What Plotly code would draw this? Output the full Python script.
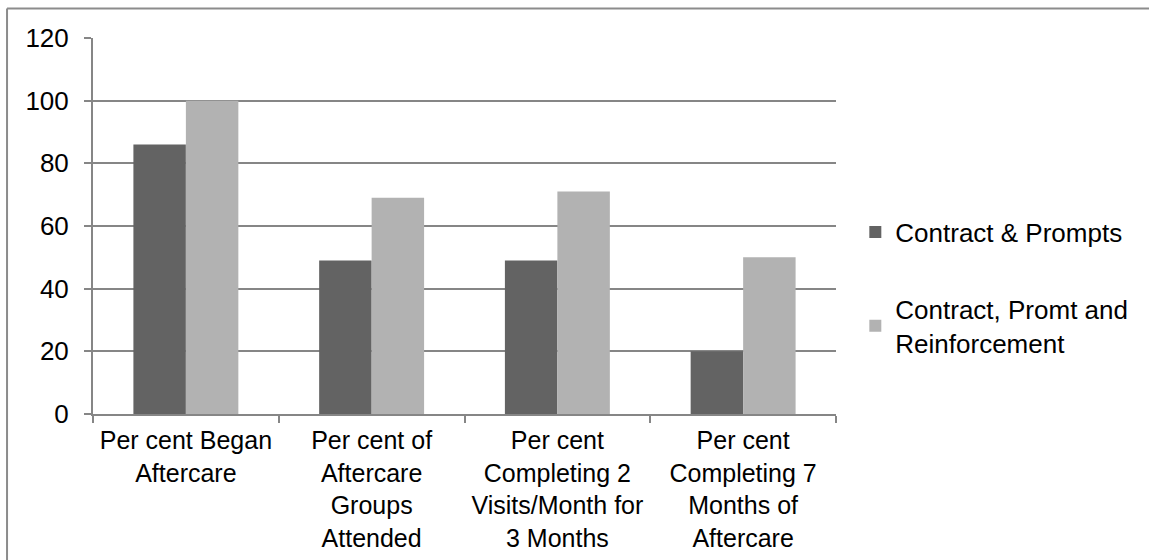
import plotly.graph_objects as go

categories = [
    "Per cent Began<br>Aftercare",
    "Per cent of<br>Aftercare<br>Groups<br>Attended",
    "Per cent<br>Completing 2<br>Visits/Month for<br>3 Months",
    "Per cent<br>Completing 7<br>Months of<br>Aftercare",
]
contract_prompts = [86, 49, 49, 20]
contract_prompt_reinf = [100, 69, 71, 50]
y_ticks = [0, 20, 40, 60, 80, 100, 120]

FONT = "Liberation Sans, Arial, sans-serif"
FSIZE = 26
GRID = "#868686"

fig = go.Figure()
fig.add_trace(go.Bar(
    x=categories, y=contract_prompts, name="Contract & Prompts",
    marker=dict(color="#636363", line=dict(width=0)), legendgroup="a",
))
fig.add_trace(go.Bar(
    x=categories, y=contract_prompt_reinf, name="Contract, Promt and<br>Reinforcement",
    marker=dict(color="#b2b2b2", line=dict(width=0)), legendgroup="b",
))

fig.update_layout(
    width=1149, height=560,
    margin=dict(l=93, r=313, t=38, b=146),
    paper_bgcolor="white", plot_bgcolor="white",
    font=dict(family=FONT, size=FSIZE, color="#000000"),
    barmode="group", bargap=0.435, bargroupgap=0,
    showlegend=True,
    legend=dict(
        x=1.026, xanchor="left", y=0.336, yanchor="middle",
        traceorder="grouped", tracegroupgap=40,
        font=dict(family=FONT, size=FSIZE, color="#000000"),
        itemwidth=30,
    ),
    xaxis=dict(
        showgrid=False, showline=True, linecolor=GRID, linewidth=2,
        ticks="outside", ticklen=7, tickwidth=2, tickcolor=GRID,
        tickson="boundaries", ticklabelstandoff=3, tickangle=0,
        automargin=False,
        tickfont=dict(family=FONT, size=25, color="#000000"),
    ),
    yaxis=dict(
        range=[0, 120], tickvals=y_ticks,
        showgrid=True, gridcolor=GRID, gridwidth=2,
        showline=True, linecolor=GRID, linewidth=2,
        ticks="outside", ticklen=7, tickwidth=2, tickcolor=GRID,
        ticklabelstandoff=10, zeroline=False, automargin=False,
        tickfont=dict(family=FONT, size=FSIZE, color="#000000"),
    ),
    shapes=[
        dict(type="line", xref="paper", yref="paper",
             x0=-0.1157, x1=-0.1157, y0=1.0786, y1=-1,
             line=dict(color="#8c8c8c", width=2)),
        dict(type="line", xref="paper", yref="paper",
             x0=-0.1157, x1=2, y0=1.0786, y1=1.0786,
             line=dict(color="#8c8c8c", width=2)),
    ],
)

fig.write_html("out.html")
